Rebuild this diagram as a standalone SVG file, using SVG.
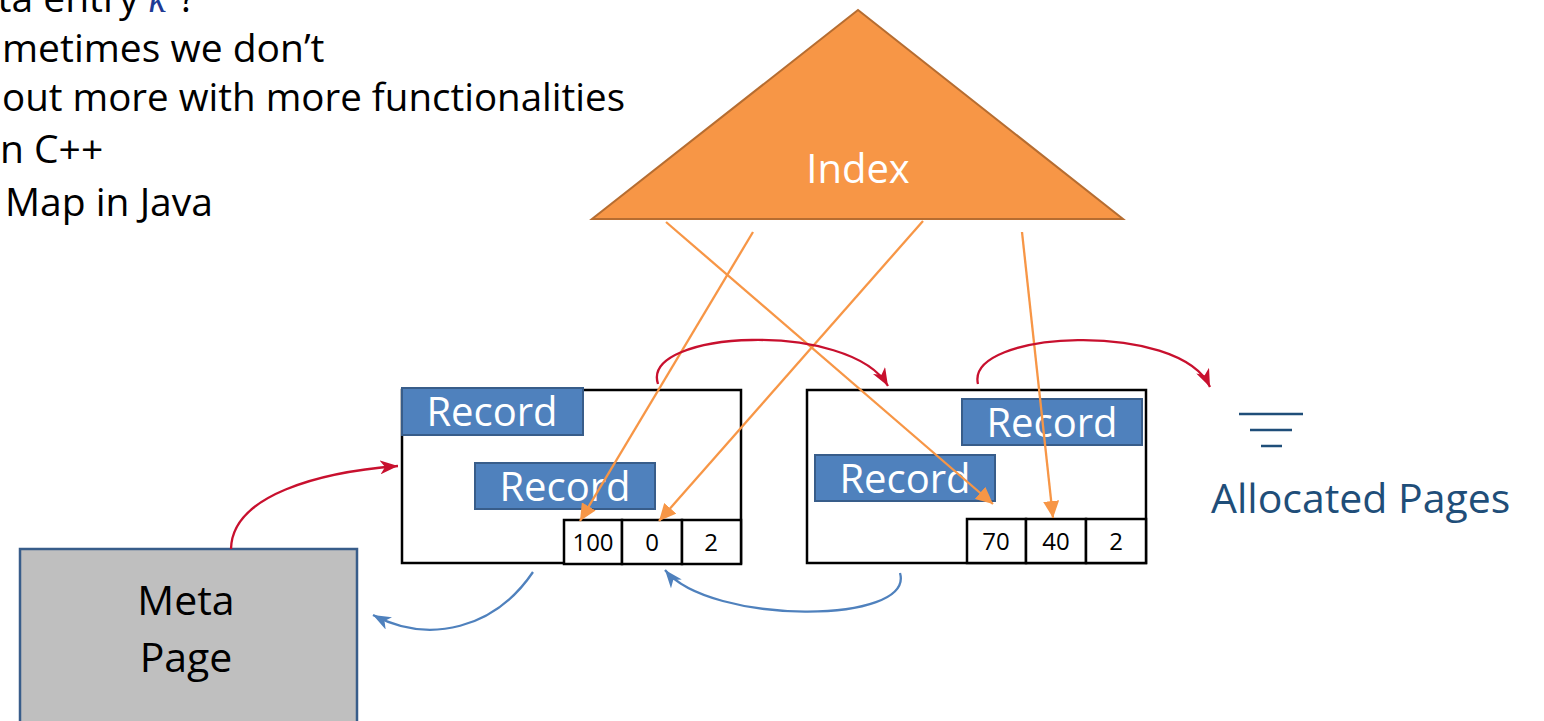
<svg xmlns="http://www.w3.org/2000/svg" width="1544" height="721" viewBox="0 0 1544 721">
  <style>
    .txt { font-family: "Open Sans", "Liberation Sans", sans-serif; }
    .body { font-size: 39px; fill: #000; }
    .page { fill: #fff; stroke: #000; stroke-width: 2.5; }
    .rec { fill: #4F81BD; stroke: #385D8A; stroke-width: 2; }
    .rec-t { font-size: 40px; fill: #fff; text-anchor: middle; }
    .cell { fill: #fff; stroke: #000; stroke-width: 2.5; }
    .cell-t { font-size: 24px; fill: #000; text-anchor: middle; }
    .ptr { fill: none; stroke: #F79646; stroke-width: 2.3; marker-end: url(#ah-orange); }
    .next { fill: none; stroke: #C8102E; stroke-width: 2.3; marker-end: url(#ah-red); }
    .free { fill: none; stroke: #4F81BD; stroke-width: 2.3; marker-end: url(#ah-blue); }
  </style>
  <defs>
    <marker id="ah-orange" markerUnits="userSpaceOnUse" markerWidth="18" markerHeight="16" refX="17" refY="8" orient="auto">
      <path d="M0,0 L17,8 L0,16 z" fill="#F79646"/>
    </marker>
    <marker id="ah-red" markerUnits="userSpaceOnUse" markerWidth="19" markerHeight="14" refX="18" refY="7" orient="auto">
      <path d="M0,0 L18,7 L0,14 L5,7 z" fill="#C8102E"/>
    </marker>
    <marker id="ah-blue" markerUnits="userSpaceOnUse" markerWidth="19" markerHeight="14" refX="18" refY="7" orient="auto">
      <path d="M0,0 L18,7 L0,14 L5,7 z" fill="#4F81BD"/>
    </marker>
  </defs>

  <!-- bullet text (runs past the left/top edge) -->
  <g id="notes" class="txt body">
    <text x="-48" y="12">data entry <tspan fill="#1F3A93" font-style="italic" font-family="Liberation Serif, serif">k</tspan><tspan font-size="24" dy="-14">*</tspan><tspan dy="14">?</tspan></text>
    <text x="2" y="62">metimes we don’t</text>
    <text x="2" y="111" textLength="623" lengthAdjust="spacingAndGlyphs">out more with more functionalities</text>
    <text x="0" y="163">n C++</text>
    <text x="5" y="216">Map in Java</text>
  </g>

  <!-- index tree -->
  <g id="index">
    <polygon points="858,10 592,219 1123,219" fill="#F79646" stroke="#B66D31" stroke-width="2"/>
    <text class="txt" x="858" y="183" font-size="40" fill="#fff" text-anchor="middle">Index</text>
  </g>

  <!-- meta page -->
  <g id="meta-page">
    <rect x="20" y="549" width="337" height="185" fill="#BFBFBF" stroke="#385D8A" stroke-width="2.5"/>
    <text class="txt" x="186" y="615" font-size="41" fill="#000" text-anchor="middle">Meta</text>
    <text class="txt" x="186" y="672" font-size="41" fill="#000" text-anchor="middle">Page</text>
  </g>

  <!-- data page 1 -->
  <g id="page1">
    <rect class="page" x="402" y="390" width="339" height="173"/>
    <rect class="rec" x="402" y="388" width="181" height="47"/>
    <text class="txt rec-t" x="492" y="426">Record</text>
    <rect class="rec" x="475" y="463" width="180" height="46"/>
    <text class="txt rec-t" x="565" y="501">Record</text>
    <rect class="cell" x="564" y="520" width="58" height="44"/>
    <rect class="cell" x="622" y="520" width="60" height="44"/>
    <rect class="cell" x="682" y="520" width="59" height="44"/>
    <text class="txt cell-t" x="593" y="551">100</text>
    <text class="txt cell-t" x="652" y="551">0</text>
    <text class="txt cell-t" x="711" y="551">2</text>
  </g>

  <!-- data page 2 -->
  <g id="page2">
    <rect class="page" x="807" y="390" width="339" height="173"/>
    <rect class="rec" x="962" y="399" width="180" height="46"/>
    <text class="txt rec-t" x="1052" y="437">Record</text>
    <rect class="rec" x="815" y="455" width="180" height="46"/>
    <text class="txt rec-t" x="905" y="493">Record</text>
    <rect class="cell" x="967" y="519" width="59" height="44"/>
    <rect class="cell" x="1026" y="519" width="60" height="44"/>
    <rect class="cell" x="1086" y="519" width="60" height="44"/>
    <text class="txt cell-t" x="996" y="550">70</text>
    <text class="txt cell-t" x="1056" y="550">40</text>
    <text class="txt cell-t" x="1116" y="550">2</text>
  </g>

  <!-- allocated pages legend -->
  <g id="allocated">
    <g stroke="#1F4E79" stroke-width="2.5">
      <line x1="1239" y1="414" x2="1303" y2="414"/>
      <line x1="1250" y1="430" x2="1292" y2="430"/>
      <line x1="1261" y1="446" x2="1282" y2="446"/>
    </g>
    <text class="txt" x="1211" y="513" font-size="41" fill="#1F4E79">Allocated Pages</text>
  </g>

  <!-- connectors -->
  <g id="connectors">
    <!-- index entries pointing into slot directories -->
    <line class="ptr" x1="666" y1="222" x2="993" y2="504"/>
    <line class="ptr" x1="753" y1="232" x2="580" y2="521"/>
    <line class="ptr" x1="923" y1="221" x2="659" y2="521"/>
    <line class="ptr" x1="1022" y1="232" x2="1053" y2="518"/>
    <!-- allocated page chain -->
    <path class="next" d="M658,384 C640,330 850,320 888,386"/>
    <path class="next" d="M978,384 C965,330 1180,320 1210,387"/>
    <path class="next" d="M231,549 C232,495 320,472 398,466"/>
    <!-- free page chain -->
    <path class="free" d="M533,572 C495,628 430,645 373,615"/>
    <path class="free" d="M900,573 C915,625 710,625 665,570"/>
  </g>
</svg>
